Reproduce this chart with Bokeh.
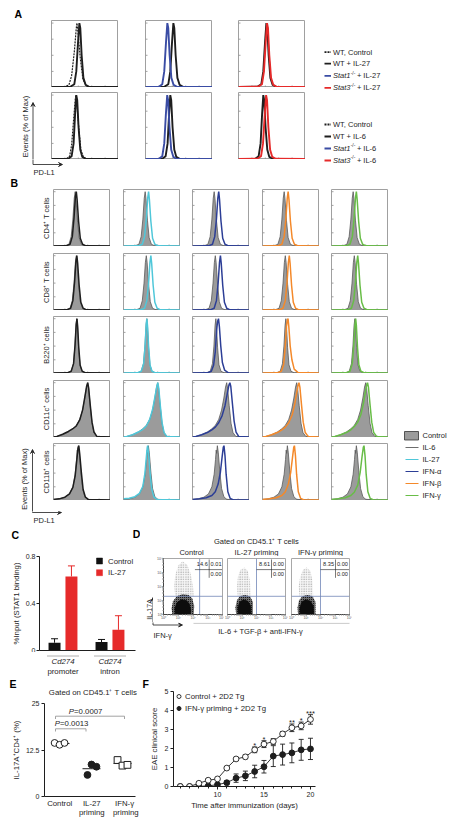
import math
from bokeh.plotting import figure
from bokeh.layouts import row, column
from bokeh.models import (Range1d, Label, Arrow, VeeHead, BoxAnnotation, FixedTicker, Title,
                          ColumnDataSource, Whisker, TeeHead, Legend, LegendItem, Spacer)
from bokeh.core.properties import value
from bokeh.embed import file_html
from bokeh.resources import INLINE

FONT = "Liberation Sans"
INK = "#1e1e1e"

# ======================= DATA =======================
# Panel A : PD-L1 histograms, x = log10 fluorescence (decades), y = % of max
A_WT_CONTROL_1 = [(0, 0.8), (1.0, 1), (1.3, 4), (1.5, 18), (1.7, 55), (1.85, 92), (1.9, 100), (1.98, 85), (2.15, 45), (2.35, 12), (2.6, 3), (2.9, 1), (5, 0.8)]
A_WT_IL27 = [(0, 1), (1.4, 1.2), (1.7, 5), (1.85, 25), (1.98, 70), (2.08, 100), (2.15, 92), (2.25, 50), (2.38, 15), (2.55, 4), (2.8, 1.2), (5, 1)]
A_STAT1_IL27 = [(0, 1), (1.0, 1.2), (1.25, 5), (1.4, 25), (1.53, 70), (1.63, 100), (1.7, 92), (1.8, 50), (1.93, 15), (2.1, 4), (2.35, 1.2), (5, 1)]
A_STAT3_IL27 = [(0, 1), (1.45, 1.2), (1.75, 5), (1.9, 25), (2.03, 70), (2.13, 100), (2.2, 92), (2.3, 50), (2.43, 15), (2.6, 4), (2.85, 1.2), (5, 1)]
A_WT_CONTROL_2 = [(0, 0.8), (1.1, 1), (1.35, 5), (1.5, 22), (1.65, 62), (1.78, 95), (1.83, 100), (1.9, 85), (2.05, 45), (2.2, 14), (2.4, 3), (2.7, 1), (5, 0.8)]
A_WT_IL6 = [(0, 1), (1.25, 1.2), (1.5, 5), (1.65, 25), (1.76, 70), (1.85, 100), (1.92, 92), (2.02, 50), (2.15, 15), (2.3, 4), (2.55, 1.2), (5, 1)]
A_STAT1_IL6 = [(0, 1), (1.0, 1.2), (1.25, 5), (1.4, 25), (1.52, 70), (1.62, 100), (1.69, 92), (1.79, 50), (1.92, 15), (2.08, 4), (2.3, 1.2), (5, 1)]
A_STAT3_IL6 = [(0, 1), (1.4, 1.2), (1.68, 5), (1.83, 25), (1.96, 70), (2.06, 100), (2.13, 92), (2.23, 50), (2.36, 15), (2.52, 4), (2.78, 1.2), (5, 1)]

# Panel B : PD-L1 histograms per cell type (control = filled grey)
B_ROW_LABELS = ["CD4\u207a T cells", "CD8\u207a T cells", "B220\u207a cells", "CD11c\u207a cells", "CD11b\u207a cells"]
B_TREATMENTS = ["IL-6", "IL-27", "IFN-\u03b1", "IFN-\u03b2", "IFN-\u03b3"]

CD4_CONTROL = [(0, 1), (1.0, 1.2), (1.35, 4), (1.55, 18), (1.7, 50), (1.82, 88), (1.9, 100), (1.97, 88), (2.1, 48), (2.25, 16), (2.45, 4), (2.75, 1.2), (5, 1)]
CD4_IL6 = [(0, 1), (1.1, 1.2), (1.45, 4), (1.65, 18), (1.8, 52), (1.92, 90), (2.0, 100), (2.07, 86), (2.2, 46), (2.35, 15), (2.55, 4), (2.85, 1.2), (5, 1)]
CD4_IL27 = [(0, 1), (1.3, 1.2), (1.65, 4), (1.85, 18), (2.0, 50), (2.12, 88), (2.2, 100), (2.27, 86), (2.4, 46), (2.55, 15), (2.75, 4), (3.05, 1.2), (5, 1)]
CD4_IFNA = [(0, 1), (1.4, 1.2), (1.75, 4), (1.95, 18), (2.1, 50), (2.22, 88), (2.3, 100), (2.37, 86), (2.5, 46), (2.65, 15), (2.85, 4), (3.15, 1.2), (5, 1)]
CD4_IFNB = [(0, 1), (1.35, 1.2), (1.7, 4), (1.9, 18), (2.05, 50), (2.17, 88), (2.25, 100), (2.32, 86), (2.45, 46), (2.6, 15), (2.8, 4), (3.1, 1.2), (5, 1)]
CD4_IFNG = [(0, 1), (1.3, 1.2), (1.62, 4), (1.83, 18), (1.98, 50), (2.1, 88), (2.18, 100), (2.25, 86), (2.38, 46), (2.53, 15), (2.73, 4), (3.03, 1.2), (5, 1)]

CD8_CONTROL = [(0, 1), (1.1, 1.2), (1.45, 4), (1.65, 18), (1.8, 50), (1.92, 88), (2.0, 100), (2.07, 88), (2.2, 48), (2.35, 16), (2.55, 4), (2.85, 1.2), (5, 1)]
CD8_IL6 = [(0, 1), (1.15, 1.2), (1.5, 4), (1.7, 18), (1.85, 52), (1.97, 90), (2.05, 100), (2.12, 86), (2.25, 46), (2.4, 15), (2.6, 4), (2.9, 1.2), (5, 1)]
CD8_IL27 = [(0, 1), (1.5, 1.2), (1.85, 4), (2.05, 18), (2.2, 50), (2.32, 88), (2.4, 100), (2.47, 86), (2.6, 46), (2.75, 15), (2.95, 4), (3.25, 1.2), (5, 1)]
CD8_IFNA = [(0, 1), (1.55, 1.2), (1.9, 4), (2.1, 18), (2.25, 50), (2.37, 88), (2.45, 100), (2.52, 86), (2.65, 46), (2.8, 15), (3.0, 4), (3.3, 1.2), (5, 1)]
CD8_IFNB = [(0, 1), (1.45, 1.2), (1.8, 4), (2.0, 18), (2.15, 50), (2.27, 88), (2.35, 100), (2.42, 86), (2.55, 46), (2.7, 15), (2.9, 4), (3.2, 1.2), (5, 1)]
CD8_IFNG = [(0, 1), (1.4, 1.2), (1.75, 4), (1.95, 18), (2.1, 50), (2.22, 88), (2.3, 100), (2.37, 86), (2.5, 46), (2.65, 15), (2.85, 4), (3.15, 1.2), (5, 1)]

B220_CONTROL = [(0, 1), (1.2, 1.2), (1.55, 4), (1.75, 18), (1.88, 50), (1.98, 88), (2.05, 100), (2.1, 88), (2.2, 48), (2.32, 16), (2.5, 4), (2.8, 1.2), (5, 1)]
B220_IL6 = [(0, 1), (1.2, 1.2), (1.55, 4), (1.76, 18), (1.89, 52), (1.99, 90), (2.06, 100), (2.12, 86), (2.22, 46), (2.34, 15), (2.52, 4), (2.82, 1.2), (5, 1)]
B220_IL27 = [(0, 1), (1.2, 1.2), (1.56, 4), (1.77, 18), (1.9, 52), (1.99, 90), (2.05, 100), (2.11, 86), (2.21, 46), (2.33, 15), (2.5, 4), (2.8, 1.2), (5, 1)]
B220_IFNA = [(0, 1), (1.3, 1.2), (1.65, 4), (1.85, 15), (2.0, 40), (2.12, 80), (2.2, 95), (2.28, 100), (2.36, 85), (2.48, 50), (2.62, 20), (2.82, 6), (3.15, 1.2), (5, 1)]
B220_IFNB = [(0, 1), (1.3, 1.2), (1.65, 4), (1.85, 16), (1.98, 45), (2.1, 85), (2.18, 98), (2.24, 100), (2.31, 85), (2.43, 50), (2.58, 25), (2.78, 8), (3.1, 2), (5, 1)]
B220_IFNG = [(0, 1), (1.3, 1.2), (1.62, 4), (1.82, 18), (1.95, 50), (2.05, 88), (2.12, 100), (2.18, 88), (2.28, 48), (2.4, 16), (2.58, 4), (2.9, 1.2), (5, 1)]

CD11C_CONTROL = [(0, 1), (0.3, 2), (0.8, 5), (1.3, 10), (1.7, 16), (2.0, 22), (2.3, 33), (2.55, 50), (2.75, 72), (2.9, 92), (3.0, 100), (3.08, 90), (3.22, 58), (3.38, 26), (3.55, 9), (3.8, 2), (5, 1)]
CD11C_IL6 = [(0, 1), (0.3, 2), (0.8, 6), (1.3, 11), (1.7, 16), (2.0, 21), (2.3, 32), (2.55, 50), (2.75, 74), (2.9, 93), (3.0, 100), (3.08, 91), (3.22, 60), (3.38, 28), (3.55, 10), (3.8, 2), (5, 1)]
CD11C_IL27 = [(0, 1), (0.3, 2), (0.8, 5), (1.3, 10), (1.7, 15), (2.0, 21), (2.3, 33), (2.55, 51), (2.75, 73), (2.92, 93), (3.01, 100), (3.09, 90), (3.23, 58), (3.39, 26), (3.56, 9), (3.8, 2), (5, 1)]
CD11C_IFNA = [(0, 1), (0.3, 2), (0.8, 5), (1.3, 9), (1.7, 14), (2.0, 19), (2.3, 27), (2.6, 40), (2.85, 58), (3.05, 80), (3.2, 96), (3.28, 100), (3.36, 93), (3.5, 62), (3.65, 30), (3.82, 10), (4.05, 2), (5, 1)]
CD11C_IFNB = [(0, 1), (0.3, 2), (0.8, 5), (1.3, 9), (1.7, 14), (2.0, 19), (2.3, 27), (2.6, 41), (2.82, 60), (3.0, 82), (3.14, 97), (3.2, 100), (3.28, 92), (3.42, 60), (3.57, 28), (3.75, 9), (4.0, 2), (5, 1)]
CD11C_IFNG = [(0, 1), (0.3, 2), (0.8, 5), (1.3, 9), (1.7, 14), (2.0, 20), (2.3, 28), (2.58, 42), (2.8, 62), (2.98, 84), (3.1, 97), (3.16, 100), (3.24, 92), (3.38, 60), (3.53, 28), (3.7, 9), (3.95, 2), (5, 1)]

CD11B_CONTROL = [(0, 2), (0.5, 3), (1.0, 6), (1.4, 12), (1.7, 25), (1.9, 48), (2.02, 75), (2.08, 92), (2.12, 86), (2.18, 100), (2.26, 88), (2.4, 52), (2.55, 22), (2.75, 7), (3.0, 2), (5, 1)]
CD11B_IL6 = [(0, 2), (0.5, 3), (1.0, 6), (1.4, 12), (1.7, 24), (1.9, 45), (2.05, 75), (2.15, 96), (2.22, 100), (2.3, 85), (2.45, 50), (2.6, 20), (2.8, 6), (3.05, 2), (5, 1)]
CD11B_IL27 = [(0, 3), (0.5, 4), (1.0, 7), (1.4, 13), (1.7, 26), (1.88, 50), (2.0, 78), (2.08, 96), (2.12, 100), (2.2, 85), (2.33, 50), (2.48, 20), (2.68, 6), (2.95, 2), (5, 1)]
CD11B_IFNA = [(0, 2), (0.6, 3), (1.2, 5), (1.7, 9), (2.0, 16), (2.25, 30), (2.45, 52), (2.6, 80), (2.7, 97), (2.76, 100), (2.85, 82), (2.95, 48), (3.1, 16), (3.3, 4), (3.6, 1), (5, 1)]
CD11B_IFNB = [(0, 2), (0.6, 3), (1.2, 5), (1.7, 9), (2.0, 16), (2.27, 30), (2.48, 52), (2.64, 80), (2.74, 97), (2.8, 100), (2.89, 82), (2.99, 48), (3.14, 16), (3.34, 4), (3.65, 1), (5, 1)]
CD11B_IFNG = [(0, 2), (0.6, 3), (1.2, 5), (1.7, 9), (2.0, 15), (2.3, 28), (2.52, 52), (2.68, 80), (2.79, 97), (2.85, 100), (2.94, 82), (3.04, 48), (3.19, 16), (3.39, 4), (3.7, 1), (5, 1)]

# Panel C : ChIP, %input (STAT1 binding)
C_GROUPS = ["promoter", "intron"]
C_CONTROL = [0.066, 0.072]
C_CONTROL_ERR = [0.034, 0.022]
C_IL27 = [0.63, 0.176]
C_IL27_ERR = [0.09, 0.12]

# Panel D : flow plots (IFN-g vs IL-17A), quadrant percentages UL, UR, LR
D_TITLES = ["Control", "IL-27 priming", "IFN-\u03b3 priming"]
D_QUAD = [("14.6", "0.01", "0.00"), ("8.61", "0.00", "0.00"), ("8.35", "0.00", "0.00")]
D_GATE_X = [2.45, 2.0, 2.0]
D_GATE_Y = 1.3
D_CLOUD = [
    [(0.8, 1.3), (0.72, 2.0), (0.8, 2.8), (1.0, 3.5), (1.3, 3.8), (1.6, 3.55), (1.85, 2.9), (2.0, 2.0), (2.05, 1.3)],
    [(0.7, 1.3), (0.65, 2.0), (0.72, 2.7), (0.9, 3.2), (1.15, 3.35), (1.4, 3.1), (1.55, 2.4), (1.6, 1.3)],
    [(0.55, 1.3), (0.5, 2.0), (0.6, 2.7), (0.8, 3.2), (1.05, 3.35), (1.3, 3.1), (1.45, 2.4), (1.5, 1.3)],
]
D_BLOB = [
    [(0.6, 0.0), (0.55, 0.45), (0.65, 0.95), (0.9, 1.3), (1.3, 1.45), (1.7, 1.4), (1.95, 1.15), (2.08, 0.6), (2.05, 0.0)],
    [(0.6, 0.0), (0.55, 0.5), (0.65, 1.0), (0.85, 1.3), (1.2, 1.4), (1.55, 1.3), (1.75, 0.9), (1.75, 0.0)],
    [(0.45, 0.0), (0.42, 0.5), (0.52, 1.0), (0.75, 1.3), (1.1, 1.4), (1.45, 1.3), (1.65, 0.9), (1.65, 0.0)],
]
D_CORE = [
    [(0.8, 0.0), (0.78, 0.45), (0.92, 0.85), (1.2, 1.05), (1.55, 1.0), (1.75, 0.75), (1.85, 0.3), (1.82, 0.0)],
    [(0.75, 0.0), (0.72, 0.5), (0.85, 0.9), (1.1, 1.05), (1.4, 0.95), (1.6, 0.6), (1.62, 0.0)],
    [(0.6, 0.0), (0.58, 0.5), (0.72, 0.9), (0.98, 1.05), (1.3, 0.95), (1.5, 0.6), (1.52, 0.0)],
]
D_TICK_LABELS = ["10\u2070", "10\u00b9", "10\u00b2", "10\u00b3", "10\u2074"]

# Panel E : IL-17A+CD4+ (%)
E_GROUPS = ["Control", "IL-27 priming", "IFN-\u03b3 priming"]
E_CONTROL = [14.4, 13.9, 14.4]
E_IL27 = [5.8, 8.6, 8.0]
E_IFNG = [9.8, 8.3, 8.5]
E_JITTER = [[-0.19, -0.03, 0.13], [-0.13, 0.0, 0.16], [-0.16, 0.0, 0.16]]
E_PVALUES = ["0.0013", "0.0007"]

# Panel F : EAE clinical score
F_DAYS = [6, 7, 8, 9, 10, 11, 12, 13, 14, 15, 16, 17, 18, 19, 20]
F_CONTROL = [0, 0, 0.17, 0.33, 0.4, 0.97, 1.45, 1.56, 1.93, 2.23, 2.37, 2.77, 3.09, 3.19, 3.53]
F_CONTROL_SEM = [0, 0, 0.05, 0.08, 0.08, 0.08, 0.08, 0.1, 0.15, 0.18, 0.15, 0.12, 0.2, 0.2, 0.25]
F_IFNG = [0, 0, 0.01, 0.03, 0.1, 0.2, 0.44, 0.56, 0.79, 1.04, 1.6, 1.68, 1.77, 1.93, 1.98]
F_IFNG_SEM = [0, 0, 0, 0.03, 0.05, 0.1, 0.22, 0.25, 0.33, 0.33, 0.55, 0.55, 0.52, 0.55, 0.56]
F_SIG_DAYS = [14, 15, 18, 19, 20]
F_SIG_MARKS = ["*", "*", "**", "*", "***"]

# colours
C_BLUE = "#3a4ca4"
C_RED = "#e62a2a"
C_CYAN = "#4fc7d9"
C_NAVY = "#2c3e96"
C_ORANGE = "#f4892a"
C_GREEN = "#68bd47"
C_GREY_FILL = "#9b9b9b"

# ======================= HELPERS =======================
GEO = {}


def mkfig(fl, ft, fw, fh, bl, br, bt, bb, xr=(0.0, 1.0), yr=(0.0, 1.0), axes=False):
    kw = dict(width=bl + fw + br, height=bt + fh + bb,
              x_range=Range1d(*xr), y_range=Range1d(*yr),
              min_border_left=bl, min_border_right=br, min_border_top=bt, min_border_bottom=bb,
              output_backend="svg", toolbar_location=None, title=None)
    if not axes:
        kw.update(x_axis_type=None, y_axis_type=None)
    p = figure(**kw)
    p.outline_line_color = None
    p.background_fill_color = "white"
    p.border_fill_color = "white"
    if axes:
        p.grid.visible = False
    GEO[p.id] = (fl, ft, fw, fh, xr, yr)
    return p


def canvas(x0, y0, w, h):
    return mkfig(x0, y0, w, h, 0, 0, 0, 0)


def X(p, px):
    fl, ft, fw, fh, xr, yr = GEO[p.id]
    return xr[0] + (px - fl) / fw * (xr[1] - xr[0])


def Y(p, py):
    fl, ft, fw, fh, xr, yr = GEO[p.id]
    return yr[0] + (ft + fh - py) / fh * (yr[1] - yr[0])


def txt(p, px, py, s, size=7.5, align="left", base="middle", angle=0.0, color=INK, style="normal"):
    p.add_layout(Label(x=X(p, px), y=Y(p, py), text=s, text_font=FONT, text_font_size=f"{size}px",
                       text_align=align, text_baseline=base, angle=angle, text_color=color,
                       text_font_style=style))


def seg(p, x0, y0, x1, y1, color=INK, width=1.0, dash="solid", head=None):
    p.add_layout(Arrow(x_start=X(p, x0), y_start=Y(p, y0), x_end=X(p, x1), y_end=Y(p, y1),
                       start=None, end=head, line_color=color, line_width=width, line_dash=dash))


def vee():
    return VeeHead(size=4, line_color=INK, fill_color=INK, line_width=0.8)


def box(p, x0, y0, x1, y1, fill, line=INK, lw=0.8):
    p.add_layout(BoxAnnotation(left=X(p, x0), right=X(p, x1), top=Y(p, y0), bottom=Y(p, y1),
                               fill_color=fill, fill_alpha=1, line_color=line, line_alpha=1, line_width=lw))


def letter(p, px, py, s):
    txt(p, px, py, s, size=10.5, style="bold", color="#000")


HIST_MAJOR = [0, 1, 2, 3, 4, 5]
HIST_MINOR = [d + math.log10(k) for d in range(5) for k in range(2, 10)]
HIST_YTICKS = [0, 25, 50, 75, 100]


def hist_fig(fl, ft, fw, fh):
    p = mkfig(fl, ft, fw, fh, 0, 0, 0, 0, xr=(0, 5), yr=(0, 104))
    p.outline_line_color = "#a0a0a0"
    tmaj = 2.0 / fh * 104
    tmin = 1.0 / fh * 104
    tl = 2.0 / fw * 5
    p.segment(x0=HIST_MAJOR, y0=[0] * 6, x1=HIST_MAJOR, y1=[tmaj] * 6, line_color="#8a8a8a", line_width=0.8)
    p.segment(x0=HIST_MINOR, y0=[0] * len(HIST_MINOR), x1=HIST_MINOR, y1=[tmin] * len(HIST_MINOR),
              line_color="#a5a5a5", line_width=0.6)
    p.segment(x0=[0] * 5, y0=HIST_YTICKS, x1=[tl] * 5, y1=HIST_YTICKS, line_color="#8a8a8a", line_width=0.8)
    return p


def curve(p, data, color, width=1.5, dash="solid", fill=None):
    xs = [c[0] for c in data]
    ys = [c[1] for c in data]
    if fill:
        p.varea(x=xs, y1=[0] * len(xs), y2=ys, fill_color=fill)
    p.line(xs, ys, line_color=color, line_width=width, line_dash=dash)


def style_axis(ax, size=7):
    ax.major_label_text_font = FONT
    ax.major_label_text_font_size = f"{size}px"
    ax.major_label_text_color = INK
    ax.axis_label_text_font = FONT
    ax.axis_label_text_font_size = "7.8px"
    ax.axis_label_text_font_style = "normal"
    ax.axis_label_text_color = INK
    ax.axis_line_color = INK
    ax.major_tick_line_color = INK
    ax.minor_tick_line_color = INK
    ax.major_tick_in = 0
    ax.major_tick_out = 3
    ax.minor_tick_in = 0
    ax.minor_tick_out = 0
    ax.major_label_standoff = 2


def solo(p):
    # isolate a figure in its own layout so no frame alignment happens with siblings
    return row(p)


# ======================= PANEL A =======================
A_FX = [51, 145, 238]
A_FY = [20, 92]
A_GAPX = [27, 26, 13]
A_PANELS = [
    [[(A_WT_CONTROL_1, INK, "2 1", 1.2), (A_WT_IL27, INK, "solid", 1.9)],
     [(A_WT_IL27, INK, "solid", 1.9), (A_STAT1_IL27, C_BLUE, "solid", 1.9)],
     [(A_WT_IL27, INK, "solid", 1.9), (A_STAT3_IL27, C_RED, "solid", 1.9)]],
    [[(A_WT_CONTROL_2, INK, "2 1", 1.2), (A_WT_IL6, INK, "solid", 1.9)],
     [(A_WT_IL6, INK, "solid", 1.9), (A_STAT1_IL6, C_BLUE, "solid", 1.9)],
     [(A_WT_IL6, INK, "solid", 1.9), (A_STAT3_IL6, C_RED, "solid", 1.9)]],
]
grid_children = []
for ci in range(3):
    kids = [Spacer(width=67, height=12)]
    for ri in range(2):
        p = hist_fig(A_FX[ci], A_FY[ri], 67, 67)
        for data, col, dash, lw in A_PANELS[ri][ci]:
            curve(p, data, col, width=lw, dash=dash)
        kids.append(p)
        if ri == 0:
            kids.append(Spacer(width=67, height=5))
    grid_children.append(column(*kids))
    grid_children.append(Spacer(width=A_GAPX[ci], height=151))
gridA = row(*grid_children)

cAL = canvas(8, 8, 43, 151)
letter(cAL, 14, 13.5, "A")
txt(cAL, 25, 126, "Events (% of Max)", size=7.5, align="center", angle=math.pi / 2)
seg(cAL, 32.5, 160, 32.5, 102, width=0.8, head=vee())
cAB = canvas(8, 159, 310, 19)
seg(cAB, 32.5, 158, 32.5, 164, width=0.8)
seg(cAB, 32.5, 164, 62, 164, width=0.8, head=vee())
txt(cAB, 33, 172, "PD-L1", size=7.5)

legA = canvas(318, 8, 130, 170)
A_LEG = [
    (51.7, INK, "2 1", [("WT, Control", "normal")]),
    (63.2, INK, "solid", [("WT + IL-27", "normal")]),
    (75.3, C_BLUE, "solid", [("Stat1", "italic"), ("-/-", "sup"), ("+ IL-27", "normal")]),
    (87.3, C_RED, "solid", [("Stat3", "italic"), ("-/-", "sup"), ("+ IL-27", "normal")]),
    (124.0, INK, "2 1", [("WT, Control", "normal")]),
    (136.0, INK, "solid", [("WT + IL-6", "normal")]),
    (148.0, C_BLUE, "solid", [("Stat1", "italic"), ("-/-", "sup"), ("+ IL-6", "normal")]),
    (160.0, C_RED, "solid", [("Stat3", "italic"), ("-/-", "sup"), ("+ IL-6", "normal")]),
]
for yy, col, dash, parts in A_LEG:
    seg(legA, 324, yy, 330.5, yy, color=col, width=1.8, dash=dash)
    xx = 332.5
    for s, kind in parts:
        if kind == "sup":
            txt(legA, xx + 0.3, yy - 2.6, s, size=4.8)
            xx += 6.5
        elif kind == "italic":
            txt(legA, xx, yy, s, size=7.5, style="italic")
            xx += 17.4
        else:
            txt(legA, xx, yy, s, size=7.5)

band_a = row(column(row(cAL, gridA), cAB), legA)

# ======================= PANEL B =======================
B_FX = [53, 123, 192, 262, 331]
B_FY = [189, 253, 316, 380, 443]
B_GAPX = [13, 12, 13, 12, 7]
B_GAPY = [7, 6, 7, 6]
B_DATA = [
    (CD4_CONTROL, [CD4_IL6, CD4_IL27, CD4_IFNA, CD4_IFNB, CD4_IFNG]),
    (CD8_CONTROL, [CD8_IL6, CD8_IL27, CD8_IFNA, CD8_IFNB, CD8_IFNG]),
    (B220_CONTROL, [B220_IL6, B220_IL27, B220_IFNA, B220_IFNB, B220_IFNG]),
    (CD11C_CONTROL, [CD11C_IL6, CD11C_IL27, CD11C_IFNA, CD11C_IFNB, CD11C_IFNG]),
    (CD11B_CONTROL, [CD11B_IL6, CD11B_IL27, CD11B_IFNA, CD11B_IFNB, CD11B_IFNG]),
]
B_COLORS = [INK, C_CYAN, C_NAVY, C_ORANGE, C_GREEN]
grid_children = []
for ci in range(5):
    kids = [Spacer(width=57, height=11)]
    for ri in range(5):
        p = hist_fig(B_FX[ci], B_FY[ri], 57, 57)
        ctrl, treated = B_DATA[ri]
        curve(p, ctrl, "#5a5a5a", width=0.8, fill=C_GREY_FILL)
        curve(p, treated[ci], B_COLORS[ci], width=1.5)
        kids.append(p)
        if ri < 4:
            kids.append(Spacer(width=57, height=B_GAPY[ri]))
    kids.append(Spacer(width=57, height=11))
    grid_children.append(column(*kids))
    grid_children.append(Spacer(width=B_GAPX[ci], height=333))
gridB = row(*grid_children)

cBL = canvas(8, 178, 45, 333)
letter(cBL, 10, 182.5, "B")
for ri in range(5):
    txt(cBL, 45.5, B_FY[ri] + 28.5, B_ROW_LABELS[ri], size=7.5, align="center", angle=math.pi / 2)
txt(cBL, 24, 478.5, "Events (% of Max)", size=7.5, align="center", angle=math.pi / 2)
seg(cBL, 32, 512, 32, 449, width=0.8, head=vee())
cBB = canvas(8, 511, 387, 16)
seg(cBB, 32, 510, 32, 512, width=0.8)
seg(cBB, 32, 512, 61, 512, width=0.8, head=vee())
txt(cBB, 33, 519.5, "PD-L1", size=7.5)

legB = canvas(395, 178, 53, 349)
box(legB, 404, 431, 418, 439.5, C_GREY_FILL, line="#333333", lw=0.8)
txt(legB, 422, 435, "Control", size=7.5)
B_LEG_COLORS = ["#6d6d6d", C_CYAN, C_NAVY, C_ORANGE, C_GREEN]
for i, (name, col) in enumerate(zip(B_TREATMENTS, B_LEG_COLORS)):
    yy = 447 + 12 * i
    seg(legB, 405, yy, 418, yy, color=col, width=1.0)
    txt(legB, 422, yy, name, size=7.5)

band_b = row(column(row(cBL, gridB), cBB), legB)

# ======================= PANEL C =======================
cCT = canvas(8, 527, 132, 24)
letter(cCT, 11, 534, "C")
letter(cCT, 132.2, 533, "D")

pc = mkfig(39, 556, 96, 94, 31, 5, 5, 2, xr=(-0.5, 1.543), yr=(0, 0.8), axes=True)
xc = [i - 0.18 for i in range(len(C_GROUPS))]
xi = [i + 0.18 for i in range(len(C_GROUPS))]
pc.vbar(x=xc, top=C_CONTROL, width=0.255, fill_color="#111111", line_color=None)
pc.vbar(x=xi, top=C_IL27, width=0.255, fill_color=C_RED, line_color=None)
for xs, tops, errs, col in ((xc, C_CONTROL, C_CONTROL_ERR, "#111111"), (xi, C_IL27, C_IL27_ERR, C_RED)):
    src = ColumnDataSource(dict(x=xs, lo=tops, hi=[t + e for t, e in zip(tops, errs)]))
    pc.add_layout(Whisker(source=src, base="x", lower="lo", upper="hi", line_color=col, line_width=1,
                          upper_head=TeeHead(size=7, line_color=col, line_width=1), lower_head=None))
pc.yaxis.ticker = FixedTicker(ticks=[0, 0.4, 0.8])
pc.yaxis.major_label_overrides = {0: "0", 0.4: "0.4", 0.8: "0.8"}
pc.yaxis.axis_label = "%Input (STAT1 binding)"
pc.xaxis.ticker = FixedTicker(ticks=[])
for ax in list(pc.xaxis) + list(pc.yaxis):
    style_axis(ax)
pc.yaxis.axis_label_standoff = 2
pc.yaxis.major_label_standoff = 1
pc.xaxis.major_tick_out = 0
box(pc, 96, 557.5, 102, 563.5, "#111111", line="#111111", lw=0.5)
txt(pc, 107.5, 560.7, "Control", size=7.8)
box(pc, 96, 569.2, 102, 575.2, C_RED, line=C_RED, lw=0.5)
txt(pc, 107.5, 572.4, "IL-27", size=7.8)

cCB = canvas(8, 652, 132, 25)
C_CENTERS = [62.5, 109.5]
for gc, name in zip(C_CENTERS, C_GROUPS):
    seg(cCB, gc - 16, 655.5, gc + 16, 655.5, color="#b0b0b0", width=1.0)
    txt(cCB, gc, 661, "Cd274", size=7.8, align="center", style="italic")
    txt(cCB, gc, 670.5, name, size=7.8, align="center")

# ======================= PANEL D =======================
dtitle = canvas(140, 527, 308, 29)
txt(dtitle, 256, 541, "Gated on CD45.1\u207a T cells", size=7.5, align="center")
D_FL = [160, 227, 291]
D_FW = [62, 58, 58]
D_BL = [7, 3, 3]
D_BR = [2, 3, 3]
for i in range(3):
    txt(dtitle, D_FL[i] + D_FW[i] / 2, 552, D_TITLES[i], size=7.5, align="center")

d_figs = []
for i in range(3):
    p = mkfig(D_FL[i], 558, D_FW[i], 58, D_BL[i], D_BR[i], 2, 6, xr=(0, 4), yr=(0, 4), axes=True)
    p.outline_line_color = "#a8a8a8"
    axes_list = list(p.xaxis) + (list(p.yaxis) if i == 0 else [])
    for ax in axes_list:
        ax.ticker = FixedTicker(ticks=[0, 1, 2, 3, 4], minor_ticks=[d + math.log10(k) for d in range(4) for k in range(2, 10)])
        ax.major_label_overrides = {k: D_TICK_LABELS[k] for k in range(5)}
        ax.major_label_text_font = FONT
        ax.major_label_text_font_size = "3.6px"
        ax.major_label_text_color = "#555555"
        ax.major_label_standoff = 0
        ax.major_tick_in = 0
        ax.major_tick_out = 1
        ax.minor_tick_in = 0
        ax.minor_tick_out = 1
        ax.axis_line_color = "#444444"
        ax.major_tick_line_color = "#666666"
        ax.minor_tick_line_color = "#999999"
    if i > 0:
        p.yaxis.visible = False
    cx = [c[0] for c in D_CLOUD[i]]
    cy = [c[1] for c in D_CLOUD[i]]
    p.patch(cx, cy, fill_color="#c8c8c8", fill_alpha=0.15, line_color=None,
            hatch_pattern="dot", hatch_color="#4a4a4a", hatch_scale=2.4, hatch_weight=0.35, hatch_alpha=0.65)
    bx = [c[0] for c in D_BLOB[i]]
    by = [c[1] for c in D_BLOB[i]]
    p.patch(bx, by, fill_color="#3a3a3a", fill_alpha=0.75, line_color=None,
            hatch_pattern="dot", hatch_color="#000000", hatch_scale=2.0, hatch_weight=0.8)
    kx = [c[0] for c in D_CORE[i]]
    ky = [c[1] for c in D_CORE[i]]
    p.patch(kx, ky, fill_color="#0d0d0d", line_color="#0d0d0d", line_width=0.8)
    gx = D_GATE_X[i]
    p.segment(x0=[gx, 0], y0=[0, D_GATE_Y], x1=[gx, 4], y1=[4, D_GATE_Y],
              line_color="#7186b8", line_width=0.8)
    fr = D_FL[i] + D_FW[i]
    ul, ur, lr = D_QUAD[i]
    seg(p, fr - 14, 559, fr - 14, 578, color="#222222", width=0.6)
    seg(p, fr - 29, 569.5, fr - 0.5, 569.5, color="#222222", width=0.6)
    txt(p, fr - 15.5, 564, ul, size=5.6, align="right")
    txt(p, fr - 12.5, 564, ur, size=5.6)
    txt(p, fr - 12.5, 574.5, lr, size=5.6)
    d_figs.append(p)

cDL = canvas(140, 556, 13, 66)
txt(cDL, 149, 609, "IL-17A", size=7, align="center", angle=math.pi / 2)
seg(cDL, 152.5, 623, 152.5, 597, width=0.8, head=vee())

dcap = canvas(140, 622, 308, 55)
seg(dcap, 193, 622.8, 349, 622.8, color="#b5b5b5", width=0.8)
seg(dcap, 152.5, 621, 152.5, 624.5, width=0.8)
seg(dcap, 152.5, 624.5, 182, 624.5, width=0.8, head=vee())
txt(dcap, 153, 635, "IFN-\u03b3", size=7.5)
txt(dcap, 260, 630.5, "IL-6 + TGF-\u03b2 + anti-IFN-\u03b3", size=7.5, align="center")

d_block = column(solo(dtitle), row(solo(cDL), *[solo(f) for f in d_figs], Spacer(width=96, height=66)), solo(dcap))
band_cd = row(column(solo(cCT), solo(pc), solo(cCB)), d_block)

# ======================= PANEL E =======================
cET = canvas(8, 677, 133, 22)
letter(cET, 9, 683.5, "E")
txt(cET, 92.5, 692, "Gated on CD45.1\u207a T cells", size=7.8, align="center")

pe = mkfig(44, 703, 91, 93, 36, 6, 4, 3, xr=(-0.516, 2.419), yr=(0, 25), axes=True)
e_sets = [E_CONTROL, E_IL27, E_IFNG]
for gi, vals in enumerate(e_sets):
    mean = sum(vals) / len(vals)
    pe.segment(x0=[gi - 0.29], x1=[gi + 0.29], y0=[mean], y1=[mean], line_color=INK, line_width=1)
xs0 = [0 + j for j in E_JITTER[0]]
xs1 = [1 + j for j in E_JITTER[1]]
xs2 = [2 + j for j in E_JITTER[2]]
pe.scatter(xs0, E_CONTROL, marker="circle", size=6.8, fill_color="white", line_color=INK, line_width=1)
pe.scatter(xs1, E_IL27, marker="circle", size=6.8, fill_color=INK, line_color=INK, line_width=1)
pe.scatter(xs2, E_IFNG, marker="square", size=6.8, fill_color="white", line_color=INK, line_width=1)
pe.yaxis.ticker = FixedTicker(ticks=[0, 12.5, 25])
pe.yaxis.major_label_overrides = {0: "0", 12.5: "12.5", 25: "25"}
pe.yaxis.axis_label = "IL-17A\u207aCD4\u207a (%)"
pe.xaxis.ticker = FixedTicker(ticks=[])
for ax in list(pe.xaxis) + list(pe.yaxis):
    style_axis(ax)
pe.yaxis.axis_label_standoff = 2
# significance brackets
seg(pe, 55, 728.3, 85.5, 728.3, color="#999999", width=0.9)
seg(pe, 55, 728.3, 55, 731, color="#999999", width=0.9)
seg(pe, 85.5, 728.3, 85.5, 731, color="#999999", width=0.9)
seg(pe, 55, 715.7, 124, 715.7, color="#999999", width=0.9)
seg(pe, 55, 715.7, 55, 718.5, color="#999999", width=0.9)
seg(pe, 124, 715.7, 124, 718.5, color="#999999", width=0.9)
txt(pe, 54.3, 723.3, "P", size=7.8, style="italic")
txt(pe, 59.5, 723.3, "=" + E_PVALUES[0], size=7.8)
txt(pe, 68.3, 710.7, "P", size=7.8, style="italic")
txt(pe, 73.5, 710.7, "=" + E_PVALUES[1], size=7.8)

cEB = canvas(8, 799, 133, 20)
txt(cEB, 59.2, 803, "Control", size=7.8, align="center")
txt(cEB, 91.3, 803, "IL-27", size=7.8, align="center")
txt(cEB, 91.3, 812, "priming", size=7.8, align="center")
txt(cEB, 124, 803, "IFN-\u03b3", size=7.8, align="center")
txt(cEB, 125.3, 812, "priming", size=7.8, align="center")

# ======================= PANEL F =======================
pf = mkfig(173, 691, 142, 95, 32, 133, 14, 33, xr=(5.27, 20.54), yr=(0, 5), axes=True)
pf.add_layout(Title(text="F", align="left", offset=-31, standoff=0, vertical_align="top",
                    text_font=FONT, text_font_size="10.5px", text_font_style="bold", text_color="#000"), "above")
for means, sems in ((F_IFNG, F_IFNG_SEM), (F_CONTROL, F_CONTROL_SEM)):
    src = ColumnDataSource(dict(x=F_DAYS, lo=[m - s for m, s in zip(means, sems)],
                                hi=[m + s for m, s in zip(means, sems)]))
    pf.add_layout(Whisker(source=src, base="x", lower="lo", upper="hi", line_color=INK, line_width=0.9,
                          upper_head=TeeHead(size=5, line_color=INK, line_width=0.9),
                          lower_head=TeeHead(size=5, line_color=INK, line_width=0.9)))
pf.line(F_DAYS, F_IFNG, line_color=INK, line_width=0.9)
r_ifng = pf.scatter(F_DAYS, F_IFNG, marker="circle", size=5.8, fill_color=INK, line_color=INK)
pf.line(F_DAYS, F_CONTROL, line_color=INK, line_width=0.9)
r_ctrl = pf.scatter(F_DAYS, F_CONTROL, marker="circle", size=5.8, fill_color="white", line_color=INK, line_width=0.9)
sig_y = [F_CONTROL[F_DAYS.index(d)] + F_CONTROL_SEM[F_DAYS.index(d)] + 0.08 for d in F_SIG_DAYS]
pf.text(x=F_SIG_DAYS, y=sig_y, text=F_SIG_MARKS, text_font=value(FONT), text_font_size="7.5px",
        text_align="center", text_baseline="alphabetic", text_color=INK)
pf.yaxis.ticker = FixedTicker(ticks=[0, 1, 2, 3, 4, 5])
pf.xaxis.ticker = FixedTicker(ticks=[10, 15, 20], minor_ticks=F_DAYS)
pf.yaxis.axis_label = "EAE clinical score"
pf.xaxis.axis_label = "Time after immunization (days)"
for ax in list(pf.xaxis) + list(pf.yaxis):
    style_axis(ax)
pf.xaxis.minor_tick_out = 2
pf.yaxis.axis_label_standoff = 3
pf.xaxis.axis_label_standoff = 1
leg = Legend(items=[LegendItem(label="Control + 2D2 Tg", renderers=[r_ctrl]),
                    LegendItem(label="IFN-\u03b3 priming + 2D2 Tg", renderers=[r_ifng])],
             location="top_left", margin=0, padding=0, spacing=2, glyph_width=11, glyph_height=10,
             label_height=10, label_standoff=1, label_text_font=FONT, label_text_font_size="7.8px",
             label_text_color=INK, border_line_color=None, background_fill_alpha=0)
pf.add_layout(leg)

band_ef = row(column(solo(cET), solo(pe), solo(cEB)), solo(pf))

content = column(band_a, band_b, band_cd, band_ef)
root = column(Spacer(width=456, height=8), row(Spacer(width=8, height=811), content))
open("out.html", "w").write(file_html(root, INLINE))
